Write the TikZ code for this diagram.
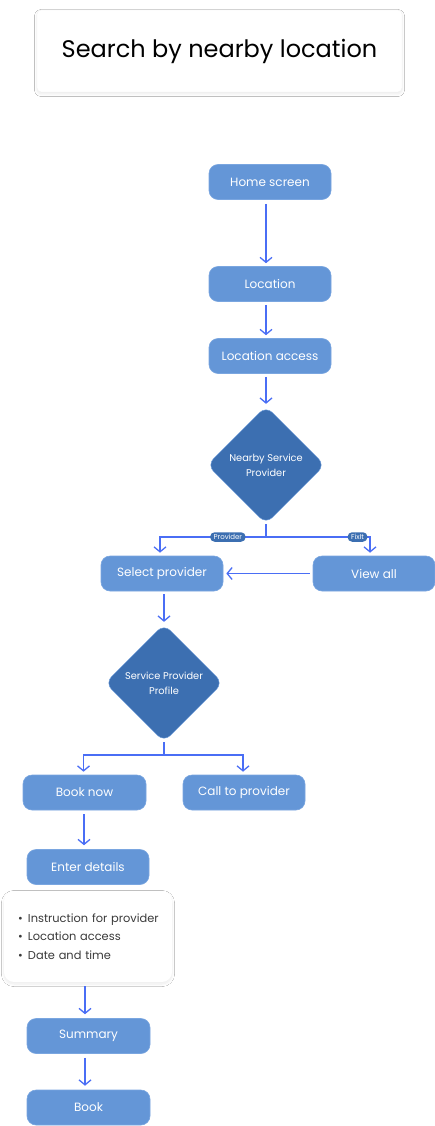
\documentclass[tikz,border=0pt]{standalone}
\usepackage{fontspec}
\setmainfont{Poppins}
\usetikzlibrary{shapes.geometric,arrows.meta,shadows.blur}
\definecolor{boxblue}{HTML}{6496D7}
\definecolor{boxedge}{HTML}{7AA6E0}
\definecolor{diablue}{HTML}{3C6FB1}
\definecolor{arrblue}{HTML}{4A6EF5}
\definecolor{pillblue}{HTML}{3C6FB1}
\definecolor{listtext}{HTML}{3A3A3A}
\tikzset{
  stepbox/.style={draw=boxedge, line width=0.6pt, fill=boxblue, rounded corners=9pt,
    minimum width=122pt, minimum height=35pt, inner sep=0pt, text=white,
    font=\fontsize{12}{14}\selectfont},
  decbox/.style={diamond, draw=boxedge, line width=0.4pt, fill=diablue, rounded corners=9pt,
    minimum width=118pt, minimum height=118pt, inner sep=0pt, text=white, align=center,
    font=\fontsize{9.8}{15}\selectfont},
  flow/.style={draw=arrblue, line width=1.3pt, -{Straight Barb[length=5pt,width=12pt,line width=1.3pt]}},
  flowline/.style={draw=arrblue, line width=1.3pt},
  pill/.style={fill=pillblue, text=white, rounded corners=4.5pt, inner xsep=3.5pt, inner ysep=0pt,
    minimum height=9.5pt, font=\fontsize{7}{8}\selectfont},
  card/.style={fill=white, draw=black!6, line width=0.4pt,
    blur shadow={shadow blur steps=10, shadow xshift=0pt, shadow yshift=-2pt, shadow blur radius=2.5pt, shadow opacity=8}}
}
\begin{document}
\begin{tikzpicture}[x=1pt,y=-1pt]
\useasboundingbox (0,0) rectangle (435,1126);
\fill[white] (0,0) rectangle (435,1126);

% title
\node[card, rounded corners=4pt, minimum width=365pt, minimum height=82pt, inner sep=0pt,
  font=\fontsize{24}{28}\selectfont] (title) at (219.5,51) {Search by nearby location};

% nodes
\node[stepbox] (home) at (270,182) {Home screen};
\node[stepbox] (loc) at (270,284) {Location};
\node[stepbox] (locacc) at (270,356) {Location access};
\node[decbox] (nsp) at (266,465) {Nearby Service\\Provider};
\node[stepbox] (sel) at (162,573.5) {Select provider};
\node[stepbox] (view) at (374,573.5) {View all};
\node[decbox] (spp) at (164,683) {Service Provider\\Profile};
\node[stepbox, minimum width=123pt] (book) at (84.5,792.5) {Book now};
\node[stepbox] (call) at (244,792.5) {Call to provider};
\node[stepbox] (enter) at (88,867) {Enter details};
\node[card, draw=none, rounded corners=10pt, minimum width=168pt, minimum height=91pt,
  text width=152pt, inner xsep=8pt, inner ysep=0pt, align=left, text=listtext,
  font=\fontsize{11.4}{18.5}\selectfont] (list) at (88,936.5)
  {\hspace*{6pt}\makebox[10pt][l]{•}Instruction for provider\\
   \hspace*{6pt}\makebox[10pt][l]{•}Location access\\
   \hspace*{6pt}\makebox[10pt][l]{•}Date and time};
\node[stepbox, minimum width=123pt] (sum) at (88.5,1036) {Summary};
\node[stepbox, minimum width=123pt] (bk) at (88.5,1107.5) {Book};

% junctions
\coordinate (j1) at (266,537);
\coordinate (j2) at (164,755);

% connectors
\draw[flow, shorten <=4pt, shorten >=3pt] ([xshift=-4pt]home.south) -- ([xshift=-4pt]loc.north);
\draw[flow, shorten <=3pt, shorten >=3pt] ([xshift=-4pt]loc.south) -- ([xshift=-4pt]locacc.north);
\draw[flow, shorten <=3pt, shorten >=2pt] ([xshift=-4pt]locacc.south) -- (nsp.north);

\draw[flowline] (nsp.south) -- (j1);
\draw[flow, shorten >=3pt] (j1) -| ([xshift=-2pt]sel.north)
  node[pill, pos=0.18] {Provider};
\draw[flow, shorten >=3pt] (j1) -| ([xshift=-4pt]view.north)
  node[pill, pos=0.44] {FixIt};
\draw[flow, shorten <=3pt, shorten >=3pt] (view.west) -- (sel.east);

\draw[flow, shorten <=3pt, shorten >=2pt] ([xshift=2pt]sel.south) -- (spp.north);
\draw[flowline] (spp.south) -- (j2);
\draw[flow, shorten >=3pt] (j2) -| ([xshift=-1pt]book.north);
\draw[flow, shorten >=3pt] (j2) -| ([xshift=-1pt]call.north);

\draw[flow, shorten <=4pt, shorten >=4pt] ([xshift=-0.5pt]book.south) -- ([xshift=-4pt]enter.north);
\draw[flow, shorten <=4pt, shorten >=4pt] ([xshift=-3pt]list.south) -- ([xshift=-3.5pt]sum.north);
\draw[flow, shorten <=4pt, shorten >=4pt] ([xshift=-3.5pt]sum.south) -- ([xshift=-3.5pt]bk.north);
\end{tikzpicture}
\end{document}
